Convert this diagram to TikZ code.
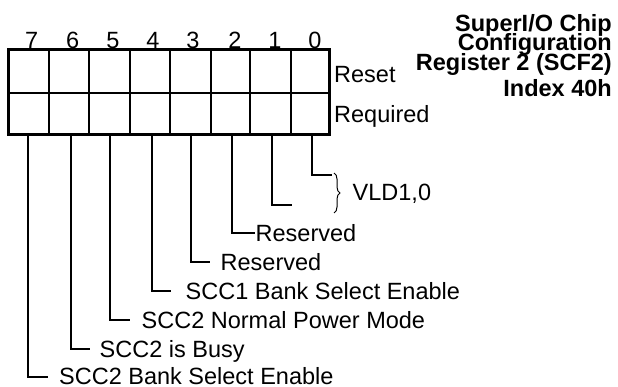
\documentclass[tikz,border=0pt]{standalone}
\usepackage{fontspec}
\setmainfont{Liberation Sans}
\usetikzlibrary{decorations.pathreplacing}
\begin{document}
\begin{tikzpicture}[x=1pt,y=-1pt,
  lbl/.style={anchor=base west,inner sep=0pt,font=\fontsize{23.5}{28}\selectfont},
  dig/.style={anchor=base,inner sep=0pt,font=\fontsize{23.5}{28}\selectfont},
  ttl/.style={anchor=base east,inner sep=0pt,font=\fontsize{23.5}{28}\selectfont\bfseries},
  conn/.style={line width=2pt},
  grid/.style={line width=2pt},
  frame/.style={line width=3pt}]
\useasboundingbox (0,0) rectangle (618,387);

% register cells
\foreach \x in {49,89.3,130,170,210.5,250,291}{
  \draw[grid] (\x,50) -- (\x,135);
}
\draw[grid] (8,93) -- (329,93);
\draw[frame] (8,50) rectangle (329,135);

% bit numbers
\node[dig] (d7) at (31.7,48.5) {7};
\node[dig] (d6) at (72.7,48.5) {6};
\node[dig] (d5) at (113,48.5) {5};
\node[dig] (d4) at (153,48.5) {4};
\node[dig] (d3) at (193,48.5) {3};
\node[dig] (d2) at (235,48.5) {2};
\node[dig] (d1) at (275,48.5) {1};
\node[dig] (d0) at (315,48.5) {0};

% row labels
\node[lbl] (reset) at (334,83) {Reset};
\node[lbl] (req) at (334,123) {Required};

% title
\node[ttl] (t1) at (612,31.5) {SuperI/O Chip};
\node[ttl] (t2) at (612,50.5) {Configuration};
\node[ttl] (t3) at (612,70.5) {Register 2 (SCF2)};
\node[ttl] (t4) at (612,96.5) {Index 40h};

% connector start points
\coordinate (p7) at (28,134);
\coordinate (p6) at (71,134);
\coordinate (p5) at (110,134);
\coordinate (p4) at (151.7,134);
\coordinate (p3) at (190.7,134);
\coordinate (p2) at (232.3,134);
\coordinate (p1) at (272.3,134);
\coordinate (p0) at (312.3,134);

% connector end points
\coordinate (e7) at (48,377);
\coordinate (e6) at (90,349);
\coordinate (e5) at (130,320);
\coordinate (e4) at (171,291);
\coordinate (e3) at (210,262);
\coordinate (e2) at (255,233);
\coordinate (e1) at (292,205);
\coordinate (e0) at (332,175);

% labels
\node[lbl] (l7) at (59,384.2) {SCC2 Bank Select Enable};
\node[lbl] (l6) at (99.5,357.2) {SCC2 is Busy};
\node[lbl] (l5) at (141.5,328.2) {SCC2 Normal Power Mode};
\node[lbl] (l4) at (185.5,299.2) {SCC1 Bank Select Enable};
\node[lbl] (l3) at (220.5,270.2) {Reserved};
\node[lbl] (l2) at (255.5,241.2) {Reserved};
\node[lbl] (vld) at (352.5,200.5) {VLD1,0};

% connectors
\foreach \i in {0,...,7}{
  \draw[conn] (p\i) |- (e\i);
}

% brace
\coordinate (ba) at (334,173);
\coordinate (bb) at (334,213);
\draw[line width=1pt,decorate,decoration={brace,amplitude=6pt}] (ba) -- (bb);
\end{tikzpicture}
\end{document}
